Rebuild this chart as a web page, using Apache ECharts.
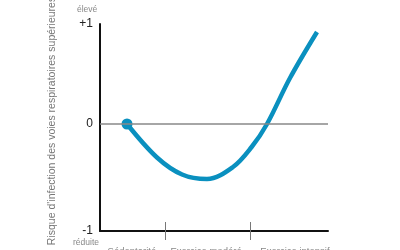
<!DOCTYPE html>
<html>
<head>
<meta charset="utf-8">
<script src="https://cdn.jsdelivr.net/npm/echarts@6/dist/echarts.min.js"></script>
<style>html,body{margin:0;padding:0;background:#fff}#c{width:400px;height:250px}</style>
</head>
<body>
<div id="c"></div>
<script>
// Data
const categories = ['Sédentarité', 'Exercice modéré', 'Exercice intensif'];
const categoryCenters = [14, 46.5, 85.5];
const categoryBoundaries = [28.5, 65.8];
const xValues = [11.84, 25.0, 36.0, 46.93, 58.33, 66.5, 73.25, 83.33, 95.18];
const yValues = [0, -0.335, -0.505, -0.55, -0.43, -0.23, 0, 0.46, 0.92];
const yTickValues = [1, 0, -1.07];
const yTickLabels = ['+1', '0', '-1'];
const yTitle = "Risque d'infection des voies respiratoires supérieures";
const highLabel = 'élevé';
const lowLabel = 'réduite';

const FONT = 'Liberation Sans, Arial, sans-serif';
const chart = echarts.init(document.getElementById('c'));
const points = xValues.map((x, i) => [x, yValues[i]]);

chart.setOption({
  animation: false,
  grid: { left: 100, right: 72, top: 24, bottom: 19, containLabel: false, outerBoundsMode: 'none' },
  xAxis: [{
    type: 'value', min: 0, max: 100, position: 'bottom',
    axisLine: { show: true, onZero: false, lineStyle: { color: '#111', width: 2 } },
    axisTick: { show: true, customValues: categoryBoundaries, length: 9, lineStyle: { color: '#777', width: 1 } },
    axisLabel: {
      customValues: categoryCenters, margin: 15, color: '#888', fontSize: 9.5, fontFamily: FONT,
      formatter: v => categories[categoryCenters.indexOf(v)] || ''
    },
    splitLine: { show: false }
  }, {
    type: 'value', min: 0, max: 100, position: 'bottom',
    axisLine: { show: false, onZero: false },
    axisTick: { show: true, inside: true, customValues: categoryBoundaries, length: 9, lineStyle: { color: '#777', width: 1 } },
    axisLabel: { show: false },
    splitLine: { show: false }
  }],
  yAxis: {
    type: 'value', min: -1.07, max: 1,
    axisLine: { show: true, onZero: false, lineStyle: { color: '#111', width: 2 } },
    axisTick: { show: false },
    splitLine: { show: false },
    axisLabel: {
      customValues: yTickValues, margin: 7, color: '#222', fontSize: 12, fontFamily: FONT,
      formatter: v => yTickLabels[yTickValues.indexOf(v)] || ''
    }
  },
  graphic: [
    { type: 'text', x: 52, y: 121, rotation: Math.PI / 2,
      style: { text: yTitle, fill: '#777', fontSize: 10.5, fontFamily: FONT, align: 'center', verticalAlign: 'middle' } },
    { type: 'text', left: 77, top: 5, style: { text: highLabel, fill: '#888', fontSize: 8.5, fontFamily: FONT } },
    { type: 'text', left: 73, top: 238, style: { text: lowLabel, fill: '#888', fontSize: 8.5, fontFamily: FONT } }
  ],
  series: [{
    type: 'line', data: points, smooth: 0.35, showSymbol: false,
    lineStyle: { color: '#0a90bf', width: 4.5, cap: 'butt', join: 'round' },
    markLine: {
      silent: true, symbol: 'none', label: { show: false },
      lineStyle: { color: '#888', width: 1.5, type: 'solid' },
      data: [{ yAxis: 0 }]
    },
    z: 3
  }, {
    type: 'scatter', data: [points[0]], symbolSize: 11,
    itemStyle: { color: '#0a90bf', opacity: 1 }, z: 4
  }]
});
</script>
</body>
</html>
